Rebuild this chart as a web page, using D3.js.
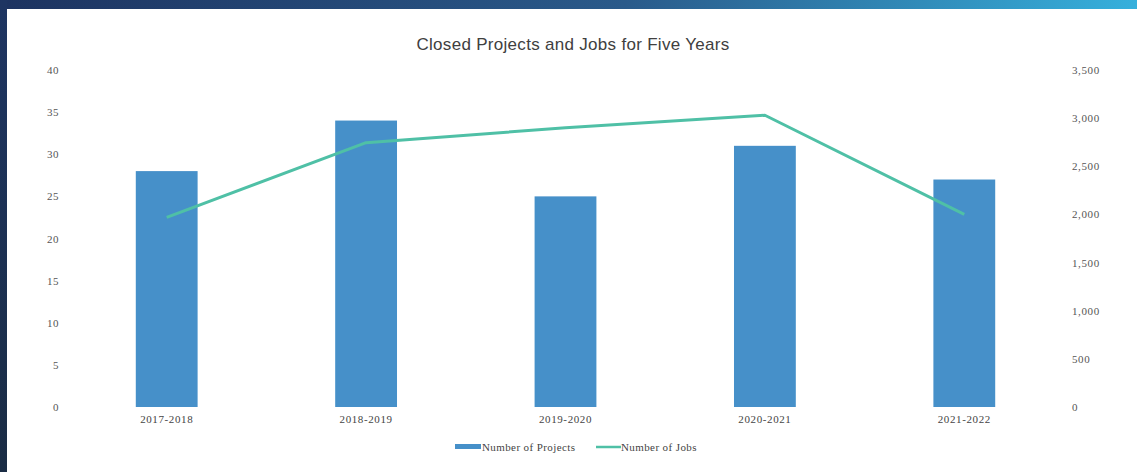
<!DOCTYPE html>
<html>
<head>
<meta charset="utf-8">
<script src="https://cdn.jsdelivr.net/npm/d3@7"></script>
<style>
  html, body { margin: 0; padding: 0; background: #fff; }
  svg { display: block; }
</style>
</head>
<body>
<svg id="chart" width="1137" height="472"></svg>
<script>
const categories = ["2017-2018", "2018-2019", "2019-2020", "2020-2021", "2021-2022"];
const projects = [28, 34, 25, 31, 27];
const jobs = [1970, 2745, 2900, 3030, 2000];
const leftTicks = [0, 5, 10, 15, 20, 25, 30, 35, 40];
const rightTicks = [0, 500, 1000, 1500, 2000, 2500, 3000, 3500];
const titleText = "Closed Projects and Jobs for Five Years";
const seriesNames = ["Number of Projects", "Number of Jobs"];

const barColor = "#4690c9";
const lineColor = "#4fc0a6";
const tickFont = "'Liberation Serif', 'DejaVu Serif', serif";

const svg = d3.select("#chart");

// Frame: dark left strip and gradient top strip
const defs = svg.append("defs");
const grad = defs.append("linearGradient").attr("id", "topgrad").attr("x1", "0%").attr("x2", "100%");
grad.append("stop").attr("offset", "0%").attr("stop-color", "#1d3360");
grad.append("stop").attr("offset", "55%").attr("stop-color", "#2a5a8a");
grad.append("stop").attr("offset", "100%").attr("stop-color", "#36b0dc");
const lgrad = defs.append("linearGradient").attr("id", "leftgrad").attr("x1", "0%").attr("x2", "0%").attr("y1", "0%").attr("y2", "100%");
lgrad.append("stop").attr("offset", "0%").attr("stop-color", "#1e3562");
lgrad.append("stop").attr("offset", "100%").attr("stop-color", "#1a2c44");
svg.append("rect").attr("x", 0).attr("y", 0).attr("width", 1137).attr("height", 9).attr("fill", "url(#topgrad)");
svg.append("rect").attr("x", 0).attr("y", 0).attr("width", 7).attr("height", 472).attr("fill", "url(#leftgrad)");

const x = d3.scaleBand().domain(categories).range([67, 1064]).paddingInner(0.69).paddingOuter(0.345);
const yL = d3.scaleLinear().domain([0, 40]).range([407, 70]);
const yR = d3.scaleLinear().domain([0, 3500]).range([407, 70]);

// Title
svg.append("text")
  .attr("x", 573).attr("y", 50)
  .attr("text-anchor", "middle")
  .attr("font-family", "'Liberation Sans', Arial, sans-serif")
  .attr("font-size", 17)
  .attr("letter-spacing", 0.3)
  .attr("fill", "#404040")
  .text(titleText);

// Left axis
const leftAxis = svg.append("g")
  .attr("transform", "translate(59,0)")
  .call(d3.axisLeft(yL).tickValues(leftTicks).tickSize(0).tickPadding(0).tickFormat(d3.format("d")));
leftAxis.select(".domain").remove();
leftAxis.selectAll("text").attr("font-family", tickFont).attr("font-size", 11).attr("letter-spacing", 0.5).attr("fill", "#555").attr("text-anchor", "end");

// Right axis
const rightAxis = svg.append("g")
  .attr("transform", "translate(1072,0)")
  .call(d3.axisRight(yR).tickValues(rightTicks).tickSize(0).tickPadding(0).tickFormat(d3.format(",")));
rightAxis.select(".domain").remove();
rightAxis.selectAll("text").attr("font-family", tickFont).attr("font-size", 11).attr("letter-spacing", 0.6).attr("fill", "#555");

// Bottom axis
const bottomAxis = svg.append("g")
  .attr("transform", "translate(0,415)")
  .call(d3.axisBottom(x).tickSize(0).tickPadding(0));
bottomAxis.select(".domain").remove();
bottomAxis.selectAll("text").attr("font-family", tickFont).attr("font-size", 11).attr("letter-spacing", 0.6).attr("fill", "#444");

// Bars
svg.append("g").selectAll("rect")
  .data(categories)
  .join("rect")
  .attr("x", d => x(d))
  .attr("width", x.bandwidth())
  .attr("y", (d, i) => yL(projects[i]))
  .attr("height", (d, i) => yL(0) - yL(projects[i]))
  .attr("fill", barColor);

// Line
const line = d3.line()
  .x((d, i) => x(categories[i]) + x.bandwidth() / 2)
  .y(d => yR(d))
  .curve(d3.curveLinear);
svg.append("path")
  .datum(jobs)
  .attr("d", line)
  .attr("fill", "none")
  .attr("stroke", lineColor)
  .attr("stroke-width", 3)
  .attr("stroke-linejoin", "round");

// Legend
const lg = svg.append("g").attr("transform", "translate(0,447)");
lg.append("rect").attr("x", 455).attr("y", -3).attr("width", 26).attr("height", 5).attr("fill", barColor);
lg.append("text").attr("x", 482).attr("y", 3.5).attr("font-family", tickFont).attr("font-size", 11).attr("letter-spacing", 0.4).attr("fill", "#444").text(seriesNames[0]);
lg.append("line").attr("x1", 596).attr("x2", 621).attr("y1", 0).attr("y2", 0).attr("stroke", lineColor).attr("stroke-width", 2.5);
lg.append("text").attr("x", 621).attr("y", 3.5).attr("font-family", tickFont).attr("font-size", 11).attr("letter-spacing", 0.4).attr("fill", "#444").text(seriesNames[1]);
</script>
</body>
</html>
